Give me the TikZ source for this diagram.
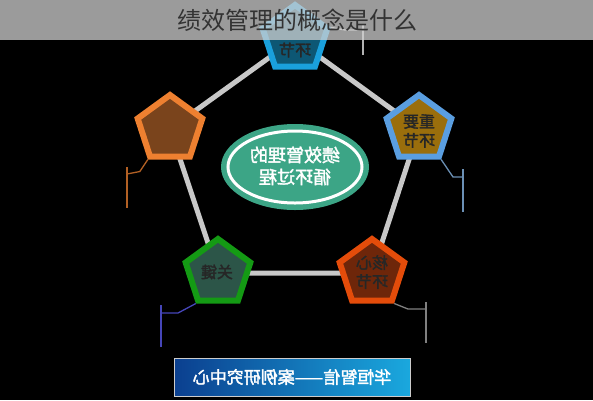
\documentclass[tikz,border=0pt]{standalone}
\usepackage{fontspec}
\usepackage{graphicx}
\newfontfamily\cjk{Noto Sans CJK SC}
\newfontfamily\cjkb[FakeBold=2]{Noto Sans CJK SC}
\usetikzlibrary{shapes.geometric,backgrounds}
\definecolor{bgblack}{HTML}{000000}
\definecolor{conngray}{HTML}{C8C8C8}
\definecolor{topb}{HTML}{1AA0DC}\definecolor{topf}{HTML}{0D5774}
\definecolor{rtb}{HTML}{5A9EE0}\definecolor{rtf}{HTML}{9A6E0C}
\definecolor{brb}{HTML}{E44C0A}\definecolor{brf}{HTML}{6E260A}
\definecolor{blb}{HTML}{149A14}\definecolor{blf}{HTML}{2C5548}
\definecolor{ltb}{HTML}{EE8030}\definecolor{ltf}{HTML}{7A441C}
\definecolor{ellf}{HTML}{3CA586}
\definecolor{bandL}{HTML}{0B3F8F}\definecolor{bandR}{HTML}{1AA8DE}
\definecolor{bannergray}{HTML}{D0D0D0}
\tikzset{
  pent/.style={regular polygon, regular polygon sides=5, minimum size=68pt, inner sep=0pt, line width=6pt, line join=miter},
  conn/.style={draw=conngray, line width=5pt},
  ptext/.style={font=\cjkb\fontsize{16}{19}\selectfont, text=black!85, align=center},
  brk/.style={line width=1.3pt},
}
\begin{document}
\begin{tikzpicture}[x=1pt,y=-1pt]
\useasboundingbox (0,0) rectangle (593,400);
% pentagons
\node[pent, draw=topb, fill=topf] (top) at (295,39) {};
\node[pent, draw=rtb, fill=rtf] (right) at (419,129) {};
\node[pent, draw=brb, fill=brf] (botright) at (372,273) {};
\node[pent, draw=blb, fill=blf] (botleft) at (218,273) {};
\node[pent, draw=ltb, fill=ltf] (left) at (170,129) {};
\begin{pgfonlayer}{background}
\fill[bgblack] (0,0) rectangle (593,400);
\draw[conn] (top.center) -- (right.center) -- (botright.center) -- (botleft.center) -- (left.center) -- cycle;
\end{pgfonlayer}
% texts in pentagons
\node[ptext] (ttop) at (295,50) {\reflectbox{环节}};
\node[ptext] (tright) at (419,131) {\reflectbox{重要}\\\reflectbox{环节}};
\node[ptext] (tbotright) at (372,272) {\reflectbox{核心}\\\reflectbox{环节}};
\node[ptext] (tbotleft) at (217,272) {\reflectbox{关键}};
% brackets
\draw[brk, draw=ltb!75!black] (left.corner 3) -- ++(-8,12) coordinate (lb1) -- (127,174) coordinate (lb2);
\draw[brk, draw=ltb!75!black] (127,167) coordinate (lv1) -- (127,208) coordinate (lv2);
\draw[brk, draw=rtb!55!gray] (right.corner 4) -- (453,177) coordinate (rb1) -- (463,177) coordinate (rb2);
\draw[brk, draw=rtb!55!gray] (463,169) coordinate (rv1) -- (463,212) coordinate (rv2);
\draw[brk, draw=blue!45!gray] (botleft.corner 3) -- (178,313) coordinate (bb1) -- (161,313) coordinate (bb2);
\draw[brk, draw=blue!45!gray] (161,305) coordinate (bv1) -- (161,347) coordinate (bv2);
\draw[brk, draw=gray] (botright.corner 4) -- (408,309) coordinate (cb1) -- (426,309) coordinate (cb2);
\draw[brk, draw=gray] (426,302) coordinate (cv1) -- (426,343) coordinate (cv2);
\draw[brk, draw=gray!60] (top.corner 5) -- (345,30) coordinate (tb1) -- (363,30) coordinate (tb2);
\draw[brk, draw=gray!60] (363,24) coordinate (tv1) -- (363,55) coordinate (tv2);
% central ellipse
\node[ellipse, fill=ellf, minimum width=148pt, minimum height=86pt, inner sep=0pt] (ell) at (295,167) {};
\node[ellipse, draw=white, line width=3pt, minimum width=134pt, minimum height=72pt, inner sep=0pt] (ellring) at (295,167) {};
\node[font=\cjkb\fontsize{18}{22}\selectfont, text=white, align=center] (elltext) at (295,166) {\reflectbox{绩效管理的}\\\reflectbox{循环过程}};
% bottom banner
\node[rectangle, draw=gray!40, line width=1pt, left color=bandL, right color=bandR, minimum width=236pt, minimum height=38pt, inner sep=0pt] (band) at (292,377) {};
\node[font=\cjkb\fontsize{17}{20}\selectfont, text=white] (bandtext) at (292,377) {\reflectbox{华恒智信——案例研究中心}};
% top title banner
\fill[bannergray, opacity=0.75] (0,0) rectangle (593,40);
\node[font=\cjk\fontsize{24}{28}\selectfont, text=black!80] (title) at (297,20) {绩效管理的概念是什么};
\end{tikzpicture}
\end{document}
